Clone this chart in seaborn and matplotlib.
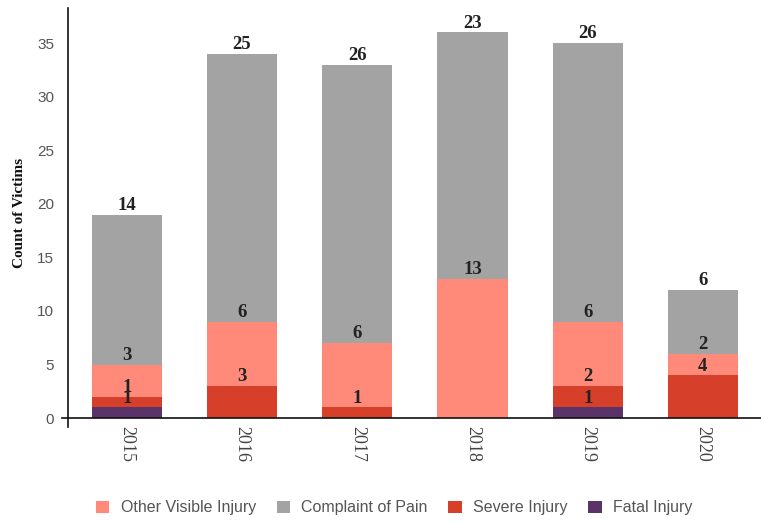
import numpy as np
import matplotlib
matplotlib.use("Agg")
import matplotlib.pyplot as plt
import seaborn as sns
from matplotlib.patches import Patch

# data: stacked from bottom to top
years = ["2015", "2016", "2017", "2018", "2019", "2020"]
fatal_injury = [1, 0, 0, 0, 1, 0]
severe_injury = [1, 3, 1, 0, 2, 4]
other_visible = [3, 6, 6, 13, 6, 2]
complaint_pain = [14, 25, 26, 23, 26, 6]

layers = [
    ("Fatal Injury", fatal_injury, "#5A3468"),
    ("Severe Injury", severe_injury, "#D6402B"),
    ("Other Visible Injury", other_visible, "#FF8A79"),
    ("Complaint of Pain", complaint_pain, "#A3A3A3"),
]
legend_order = ["Other Visible Injury", "Complaint of Pain", "Severe Injury", "Fatal Injury"]

sns.set_style("white")

fig = plt.figure(figsize=(7.61, 5.22), dpi=100)
ax = fig.add_axes([0.0894, 0.199, 0.91, 0.786])

bottoms = np.zeros(len(years))
for name, vals, col in layers:
    vals = np.array(vals, dtype=float)
    sns.barplot(x=years, y=vals, bottom=bottoms, color=col, width=0.61,
                errorbar=None, ax=ax, saturation=1, linewidth=0,
                edgecolor="none", zorder=2)
    tops = bottoms + vals
    for i, v in enumerate(vals):
        if v > 0:
            ax.annotate(f"{int(v)}", (i, tops[i]), xytext=(0, 0.5),
                        textcoords="offset points", ha="center", va="bottom",
                        fontsize=13.5, fontweight="bold", color="#222222",
                        family="Liberation Serif", zorder=5)
    bottoms = tops

ax.set_xlim(-0.51, 5.5)
ax.set_ylim(0, 38.3)
ax.set_yticks([0, 5, 10, 15, 20, 25, 30, 35])
ax.tick_params(axis="y", length=2, width=1, color="#888888", labelsize=11,
               labelcolor="#555555", pad=8)
for lab in ax.get_yticklabels():
    lab.set_family("Liberation Sans")
ax.tick_params(axis="x", length=0, labelsize=13, labelcolor="#444444", pad=6)
ax.set_xticks(range(len(years)))
ax.set_xticklabels(years, rotation=270, family="Liberation Serif")
ax.set_xticks([0.5, 1.5, 2.5, 3.5, 4.5], minor=True)
ax.tick_params(axis="x", which="minor", length=2, width=1.2, color="#555555")

ax.set_xlabel("")
ax.set_ylabel("Count of Victims", family="Liberation Serif", fontweight="bold",
              fontsize=11, color="#111111", labelpad=8)

for s in ["top", "right"]:
    ax.spines[s].set_visible(False)
for s in ["left", "bottom"]:
    ax.spines[s].set_color("#111111")
    ax.spines[s].set_linewidth(1.2)
ax.spines["left"].set_bounds(-0.8, 38.3)
ax.spines["bottom"].set_bounds(-0.56, 5.5)
ax.grid(False)

colors = {name: col for name, _, col in layers}
handles = [Patch(facecolor=colors[n], edgecolor="none", label=n) for n in legend_order]
leg = fig.legend(handles=handles, loc="center", bbox_to_anchor=(0.518, 0.027),
                 ncol=4, frameon=False, fontsize=11.5, handlelength=0.85,
                 handleheight=0.85, handletextpad=0.7, columnspacing=1.3)
for t in leg.get_texts():
    t.set_color("#555555")
    t.set_family("Liberation Sans")

fig.savefig("out.png", dpi=100)
